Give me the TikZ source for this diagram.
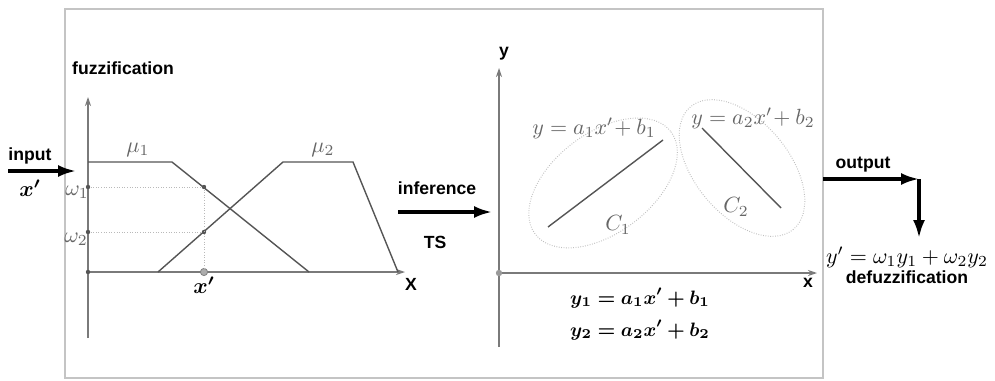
\RequirePackage{fix-cm}
\documentclass[tikz,border=0pt]{standalone}
\usepackage{fontspec}
\setsansfont{Liberation Sans}
\usepackage{amsmath,bm}
\usetikzlibrary{arrows.meta}

\definecolor{linegray}{HTML}{555555}
\definecolor{axisgray}{HTML}{7A7A7A}
\definecolor{framegray}{HTML}{C4C4C4}
\definecolor{mathgray}{HTML}{666666}

\tikzset{
  lbl/.style={font=\sffamily\bfseries\fontsize{8.8}{10}\selectfont, inner sep=0pt},
  mlbl/.style={text=mathgray, inner sep=0pt, font=\fontsize{11}{12}\selectfont},
  blbl/.style={text=black, inner sep=0pt, font=\fontsize{11}{12}\selectfont},
  axis/.style={draw=axisgray, line width=0.6pt, -{Stealth[length=4.5pt,width=3pt]}},
  curve/.style={draw=linegray, line width=0.7pt},
  guide/.style={draw=gray!55, dash pattern=on 0.5pt off 0.8pt, line width=0.5pt},
  cluster/.style={draw=gray!50, dash pattern=on 0.4pt off 0.8pt, line width=0.5pt},
  flow/.style={line width=1.6pt, -{Latex[length=9pt,width=6pt]}},
  knot/.style={circle, fill=#1, inner sep=0pt, minimum size=2.2pt},
}

\begin{document}
\begin{tikzpicture}[x=0.5pt,y=-0.5pt]
  \useasboundingbox (0,0) rectangle (995,380);
  \draw[framegray, line width=1pt] (65,9) rectangle (823,378);

  % Coordinates: fuzzification plot
  \coordinate (O1) at (88,272);
  \coordinate (Ytop1) at (88,97);
  \coordinate (Ybot1) at (88,338);
  \coordinate (Xend1) at (405,272);
  \coordinate (m1a) at (88,162);
  \coordinate (m1b) at (172,162);
  \coordinate (m1c) at (309,272);
  \coordinate (m2a) at (158,272);
  \coordinate (m2b) at (283,162);
  \coordinate (m2c) at (353,162);
  \coordinate (m2d) at (398,272);
  \coordinate (inA) at (8,171);
  \coordinate (inB) at (76,171);

  % Drawing: fuzzification plot
  \draw[axis] (Ybot1) -- (Ytop1);
  \draw[axis] (O1) -- (Xend1);
  \draw[curve] (m1a) -- (m1b) -- (m1c);
  \draw[curve] (m2a) -- (m2b) -- (m2c) -- (m2d);
  \node[knot=linegray] (w1a) at (88,187) {};
  \node[knot=linegray] (w1b) at (204,187) {};
  \node[knot=linegray] (w2a) at (88,232) {};
  \node[knot=linegray] (w2b) at (204,232) {};
  \node[knot=linegray] (o1) at (O1) {};
  \node[circle, fill=gray!65, draw=gray, line width=0.4pt, inner sep=0pt, minimum size=3.6pt] (xp) at (204,272) {};
  \draw[guide] (w1a) -- (w1b) -- (xp);
  \draw[guide] (w2a) -- (w2b);
  \node[mlbl] (mu1) at (138,150) {$\mu_1$};
  \node[mlbl] (mu2) at (323,150) {$\mu_2$};
  \node[mlbl] (om1) at (77,192) {$\omega_1$};
  \node[mlbl] (om2) at (76,239) {$\omega_2$};
  \node[blbl] (xpl) at (204,285) {$\bm{x'}$};
  \node[lbl] (X) at (411,284) {X};
  \node[lbl] (fuzz) at (123,68) {fuzzification};
  \node[lbl] (input) at (30,156) {input};
  \node[blbl] (xin) at (30,188) {$\bm{x'}$};
  \draw[flow] (inA) -- (inB);

  % Inference arrow
  \coordinate (infA) at (398,212);
  \coordinate (infB) at (492,212);
  \draw[flow] (infA) -- (infB);
  \node[lbl] (inf) at (437,188) {inference};
  \node[lbl] (ts) at (435,242) {TS};

  % Coordinates: consequent plot
  \coordinate (O2) at (499,273);
  \coordinate (Ytop2) at (499,68);
  \coordinate (Ybot2) at (499,347);
  \coordinate (Xend2) at (817,273);
  \coordinate (E1) at (603,183);
  \coordinate (E2) at (742,168);
  \coordinate (l1a) at (548,227);
  \coordinate (l1b) at (663,140);
  \coordinate (l2a) at (702,128);
  \coordinate (l2b) at (781,208);

  % Drawing: consequent plot
  \draw[axis] (Ybot2) -- (Ytop2);
  \draw[axis] (O2) -- (Xend2);
  \node[circle, fill=gray!80, inner sep=0pt, minimum size=3.2pt] (o2) at (O2) {};
  \draw[cluster, rotate around={37:(E1)}] (E1) ellipse [x radius=85, y radius=50];
  \draw[cluster, rotate around={-50:(E2)}] (E2) ellipse [x radius=80, y radius=47];
  \draw[curve] (l1a) -- (l1b);
  \draw[curve] (l2a) -- (l2b);
  \node[mlbl] (rule1) at (594,128) {$y=a_1x'\!+b_1$};
  \node[mlbl] (rule2) at (753,118) {$y=a_2x'\!+b_2$};
  \node[mlbl] (c1) at (618,225) {$C_1$};
  \node[mlbl] (c2) at (736,207) {$C_2$};
  \node[lbl] (ylab) at (504,54) {y};
  \node[lbl] (xlab) at (808,283) {x};
  \node[blbl, font=\fontsize{9.7}{11}\selectfont] (eq1) at (640,298) {$\bm{y_1=a_1x'+b_1}$};
  \node[blbl, font=\fontsize{9.7}{11}\selectfont] (eq2) at (640,330) {$\bm{y_2=a_2x'+b_2}$};

  % Output and defuzzification
  \coordinate (outA) at (823,179);
  \coordinate (outB) at (919,179);
  \coordinate (outC) at (919,238);
  \draw[flow] (outA) -- (outB);
  \draw[flow] (outB) -- (outC);
  \node[lbl] (out) at (863,165) {output};
  \node[blbl] (yout) at (907,257) {$y'=\omega_1y_1+\omega_2y_2$};
  \node[lbl] (defuzz) at (907,277) {defuzzification};
\end{tikzpicture}
\end{document}
